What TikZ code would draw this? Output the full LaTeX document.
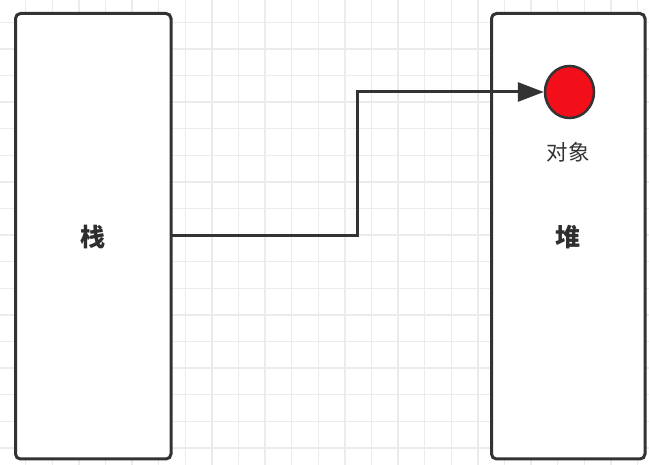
\documentclass[tikz,border=0pt]{standalone}
\usepackage{fontspec}
\newfontfamily\cjk{Noto Sans CJK SC}
\usetikzlibrary{arrows.meta,shapes.geometric}
\definecolor{gridgray}{HTML}{EBEBEB}
\definecolor{edge}{HTML}{333333}
\definecolor{objred}{HTML}{F20F1A}
\tikzset{
  membox/.style={draw=edge, line width=3pt, rounded corners=5pt, fill=white},
  boxlabel/.style={font=\cjk\bfseries\fontsize{25}{25}\selectfont, text=edge!90!black},
  objlabel/.style={font=\cjk\fontsize{21.5}{21.5}\selectfont, text=edge},
  conn/.style={draw=edge, line width=3pt, -{Triangle[length=26pt,width=19pt]}}
}
\begin{document}
\begin{tikzpicture}[x=1pt,y=-1pt]
\useasboundingbox (0,0) rectangle (649,465);
\fill[white] (0,0) rectangle (649,465);
\foreach \i in {0,...,24} {
  \draw[gridgray, line width=1.5pt] ({25.7+26.6*\i},0) -- ({25.7+26.6*\i},465);
}
\foreach \j in {0,...,17} {
  \draw[gridgray, line width=1.5pt] (0,{22.3+26.6*\j}) -- (649,{22.3+26.6*\j});
}
\draw[membox] (15.5,13.5) rectangle (171,459) ;
\draw[membox] (491.5,13.5) rectangle (645,459);
\node[boxlabel] (stack) at (93,237) {栈};
\node[boxlabel] (heap) at (568,237) {堆};
\node[draw=edge, line width=2.5pt, fill=objred, ellipse, minimum width=49pt, minimum height=52pt, inner sep=0pt] (obj) at (569.5,92) {};
\node[objlabel] (objl) at (568,152) {对象};
\coordinate (s) at (171,236);
\coordinate (bend1) at (357.5,236);
\coordinate (bend2) at (357.5,92);
\draw[conn] (s) -- (bend1) -- (bend2) -- (obj.west);
\end{tikzpicture}
\end{document}
